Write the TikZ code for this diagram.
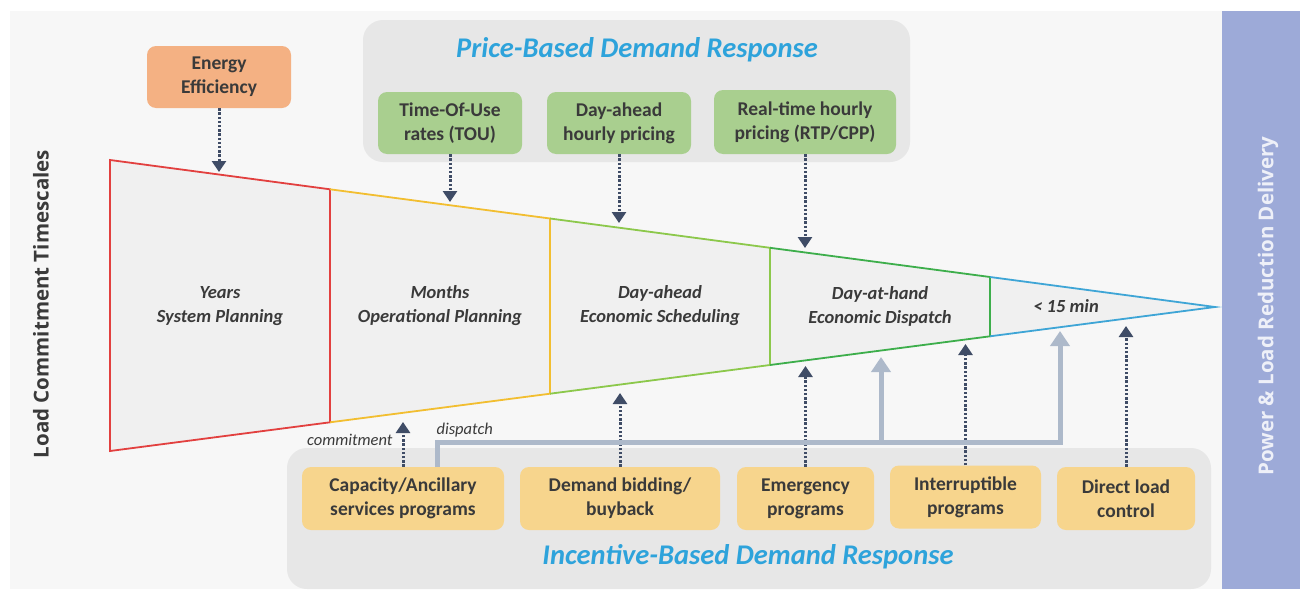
\documentclass[tikz,border=0pt]{standalone}
\usepackage{fontspec}
\setmainfont{Carlito}
\newfontfamily\osans{Open Sans}
\usetikzlibrary{arrows.meta}
\definecolor{bgc}{HTML}{F7F7F7}
\definecolor{funfill}{HTML}{F0F0F0}
\definecolor{panelc}{HTML}{E7E7E7}
\definecolor{orangec}{HTML}{F4B183}
\definecolor{greenc}{HTML}{A9CF8F}
\definecolor{yellowc}{HTML}{F7D58D}
\definecolor{titlec}{HTML}{2EA3DB}
\definecolor{bluepanel}{HTML}{9DAAD8}
\definecolor{navyc}{HTML}{3F4C66}
\definecolor{thickc}{HTML}{ADB9CA}
\definecolor{redl}{HTML}{E2403F}
\definecolor{yell}{HTML}{F2BE30}
\definecolor{lgreenl}{HTML}{8CC84B}
\definecolor{greenl}{HTML}{3DAE4B}
\definecolor{bluel}{HTML}{3EA5D6}
\definecolor{txtc}{HTML}{3A3A3A}
\definecolor{sidewhite}{HTML}{EEF0F8}
\tikzset{
  rbox/.style={rounded corners=9pt, align=center, text=txtc, font=\fontsize{19.5}{24}\selectfont\bfseries, inner sep=0pt},
  celltext/.style={align=center, text=txtc, font=\fontsize{18.5}{24}\selectfont\bfseries\itshape},
  dotarrow/.style={navyc, line width=3pt, dash pattern=on 2.4pt off 1.8pt, -{Triangle[width=14pt,length=11pt]}},
  thickarrow/.style={thickc, line width=5pt, -{Triangle[width=19pt,length=15pt]}},
  segline/.style={line width=1.8pt},
  paneltitle/.style={text=titlec, font=\fontsize{28.5}{32}\selectfont\bfseries\itshape},
  sidelabel/.style={rotate=90, font=\fontsize{20.5}{24}\selectfont\osans\bfseries},
}
\begin{document}
\begin{tikzpicture}[x=1pt,y=-1pt]
\useasboundingbox (0,0) rectangle (1300,589);
\fill[white] (0,0) rectangle (1300,589);
\fill[bgc] (10,11) rectangle (1222,589);
\fill[bluepanel] (1222,11) rectangle (1300,589);
\node[sidelabel, text=sidewhite] (rlab) at (1268,306) {Power \& Load Reduction Delivery};
\node[sidelabel, text=txtc] (llab) at (41,304) {Load Commitment Timescales};

% panels
\node[fill=panelc, rounded corners=20pt, minimum width=547pt, minimum height=142pt] (ppanel) at (636.5,91) {};
\node[fill=panelc, rounded corners=20pt, minimum width=924pt, minimum height=141pt] (ipanel) at (749,518.5) {};
\node[paneltitle] (ptitle) at (637,50) {Price-Based Demand Response};
\node[paneltitle] (ititle) at (748,557) {Incentive-Based Demand Response};

% funnel
\coordinate (a1) at (110,160); \coordinate (b1) at (110,451);
\coordinate (a2) at (330,189.3); \coordinate (b2) at (330,422.3);
\coordinate (a3) at (550,218.5); \coordinate (b3) at (550,393.7);
\coordinate (a4) at (770,247.8); \coordinate (b4) at (770,365);
\coordinate (a5) at (990,277); \coordinate (b5) at (990,336.3);
\coordinate (apex) at (1215,307);
\fill[funfill] (a1) -- (apex) -- (b1) -- cycle;
\draw[segline, redl] (a2) -- (a1) -- (b1) -- (b2) -- cycle;
\draw[segline, yell] (a2) -- (a3) -- (b3) -- (b2);
\draw[segline, lgreenl] (a3) -- (a4) -- (b4) -- (b3);
\draw[segline, greenl] (a4) -- (a5) -- (b5) -- (b4);
\draw[segline, bluel] (a5) -- (apex) -- (b5);

\node[celltext] (c1) at (220,306) {Years\\System Planning};
\node[celltext] (c2) at (440,306) {Months\\Operational Planning};
\node[celltext] (c3) at (660,306) {Day-ahead\\Economic Scheduling};
\node[celltext] (c4) at (880,306) {Day-at-hand\\Economic Dispatch};
\node[celltext] (c5) at (1066,306) {< 15 min};

% top boxes
\node[rbox, fill=orangec, minimum width=144pt, minimum height=62pt] (ee) at (219,77) {Energy\\Efficiency};
\node[rbox, fill=greenc, minimum width=144pt, minimum height=62pt] (g1) at (450,123) {Time-Of-Use\\rates (TOU)};
\node[rbox, fill=greenc, minimum width=144pt, minimum height=62pt] (g2) at (619,123) {Day-ahead\\hourly pricing};
\node[rbox, fill=greenc, minimum width=182pt, minimum height=64pt] (g3) at (805,122) {Real-time hourly\\pricing (RTP/CPP)};

% bottom boxes
\node[rbox, fill=yellowc, minimum width=202pt, minimum height=63pt] (y1) at (403,498.5) {Capacity/Ancillary\\services programs};
\node[rbox, fill=yellowc, minimum width=200pt, minimum height=63pt] (y2) at (620,498.5) {Demand bidding/\\buyback};
\node[rbox, fill=yellowc, minimum width=137pt, minimum height=63pt] (y3) at (805.5,498.5) {Emergency\\programs};
\node[rbox, fill=yellowc, minimum width=151pt, minimum height=63pt] (y4) at (965.5,497) {Interruptible\\programs};
\node[rbox, fill=yellowc, minimum width=138pt, minimum height=63pt] (y5) at (1126,498.5) {Direct load\\control};

% arrow targets
\coordinate (te) at (219,172);
\coordinate (tg1) at (450,202);
\coordinate (tg2) at (619,223);
\coordinate (tg3) at (805,248);
\coordinate (ty1) at (403,422);
\coordinate (ty2) at (620,393);
\coordinate (ty3) at (805.5,366);
\coordinate (ty4) at (965.5,344);
\coordinate (ty5) at (1126,326);

\draw[dotarrow] (ee.south) -- (te);
\draw[dotarrow] (g1.south) -- (tg1);
\draw[dotarrow] (g2.south) -- (tg2);
\draw[dotarrow] (g3.south) -- (tg3);
\draw[dotarrow] (y1.north) -- (ty1);
\draw[dotarrow] (y2.north) -- (ty2);
\draw[dotarrow] (y3.north) -- (ty3);
\draw[dotarrow] (y4.north) -- (ty4);
\draw[dotarrow] (y5.north) -- (ty5);

% thick dispatch arrows
\coordinate (d0) at (437,467);
\coordinate (dj) at (881,442);
\coordinate (dk) at (1060,442);
\coordinate (dt1) at (881,357);
\coordinate (dt2) at (1060,331);
\draw[thickarrow] (d0) |- (dk) -- (dt2);
\draw[thickarrow] (dj) -- (dt1);

\node[anchor=east, text=txtc, font=\fontsize{16.5}{18}\selectfont\itshape] (lcom) at (396,440) {commitment};
\node[anchor=west, text=txtc, font=\fontsize{16.5}{18}\selectfont\itshape] (ldis) at (433,430) {dispatch};
\end{tikzpicture}
\end{document}
